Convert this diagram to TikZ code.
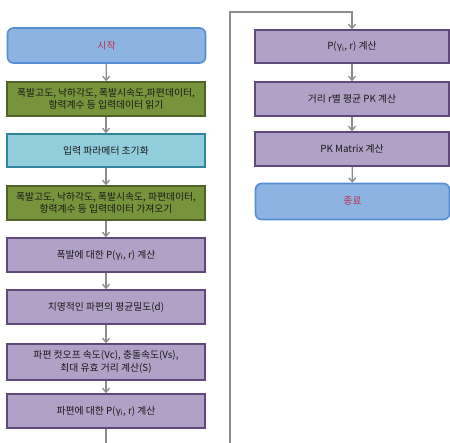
\documentclass[tikz,border=0pt]{standalone}
\usepackage{fontspec}
\setmainfont{Noto Sans CJK KR}
\usetikzlibrary{arrows.meta}
\definecolor{bluefill}{HTML}{8DB3E2}
\definecolor{blueline}{HTML}{558ED5}
\definecolor{greenfill}{HTML}{77933C}
\definecolor{greenline}{HTML}{4F6228}
\definecolor{cyanfill}{HTML}{92CDDC}
\definecolor{cyanline}{HTML}{31859C}
\definecolor{purplefill}{HTML}{B2A1C7}
\definecolor{purpleline}{HTML}{5F497A}
\definecolor{arrowgray}{HTML}{8C8C8C}
\definecolor{termtext}{HTML}{C0304D}
\newcommand{\gi}{γ\textsubscript{i}}
\begin{document}
\begin{tikzpicture}[x=1pt,y=-1pt,
  box/.style={rectangle, line width=1.6pt, align=center, font=\fontsize{9.8pt}{12.5pt}\selectfont, text=black!90, inner sep=1pt},
  leftbox/.style={box, minimum width=198pt},
  rightbox/.style={box, minimum width=194pt},
  termbox/.style={rounded corners=6pt, draw=blueline, fill=bluefill, text=termtext},
  greenbox/.style={draw=greenline, fill=greenfill},
  cyanbox/.style={draw=cyanline, fill=cyanfill},
  purplebox/.style={draw=purpleline, fill=purplefill},
  flow/.style={draw=arrowgray, line width=1.3pt, -{Straight Barb[length=4pt,width=7pt]}},
  plain/.style={draw=arrowgray, line width=1.3pt}
]
\useasboundingbox (0,0) rectangle (450,442);
\clip (0,0) rectangle (450,442);
\fill[white] (0,0) rectangle (450,442);
% left column
\node[leftbox, termbox, minimum height=35pt] (start) at (106.5,45.5) {시작};
\node[leftbox, greenbox, minimum height=34pt] (read) at (106,99) {폭발고도, 낙하각도, 폭발시속도,파편데이터,\\항력계수 등 입력데이터 읽기};
\node[leftbox, cyanbox, minimum height=33pt] (init) at (106,150.5) {입력 파라메터 초기화};
\node[leftbox, greenbox, minimum height=34pt] (fetch) at (106,203) {폭발고도, 낙하각도, 폭발시속도, 파편데이터,\\항력계수 등 입력데이터 가져오기};
\node[leftbox, purplebox, minimum height=34pt] (blast) at (106,255) {폭발에 대한 P(\gi, r) 계산};
\node[leftbox, purplebox, minimum height=34pt] (dens) at (106,307) {치명적인 파편의 평균밀도(d)};
\node[leftbox, purplebox, minimum height=36pt] (vel) at (106,362) {파편 컷오프 속도(Vc), 충돌속도(Vs),\\최대 유효 거리 계산(S)};
\node[leftbox, purplebox, minimum height=34pt] (frag) at (106,411) {파편에 대한 P(\gi, r) 계산};
% right column
\node[rightbox, purplebox, minimum height=33pt] (ptot) at (352,46.5) {P(\gi, r) 계산};
\node[rightbox, purplebox, minimum height=34pt] (avg) at (352,99) {거리 r별 평균 PK 계산};
\node[rightbox, purplebox, minimum height=34pt] (mat) at (352,149) {PK Matrix 계산};
\node[rightbox, termbox, minimum height=36pt] (stop) at (352.5,201.5) {종료};
% connectors
\draw[flow] (start) -- (read);
\draw[flow] (read) -- (init);
\draw[flow] (init) -- (fetch);
\draw[flow] (fetch) -- (blast);
\draw[flow] (blast) -- (dens);
\draw[flow] (dens) -- (vel);
\draw[flow] (vel) -- (frag);
\coordinate (loopa) at (106,470);
\coordinate (loopb) at (230,470);
\coordinate (loopc) at (230,12);
\draw[flow] (frag.south) -- (loopa) -- (loopb) -- (loopc) -| (ptot.north);
\draw[flow] (ptot) -- (avg);
\draw[flow] (avg) -- (mat);
\draw[flow] (mat) -- (stop);
\end{tikzpicture}
\end{document}
